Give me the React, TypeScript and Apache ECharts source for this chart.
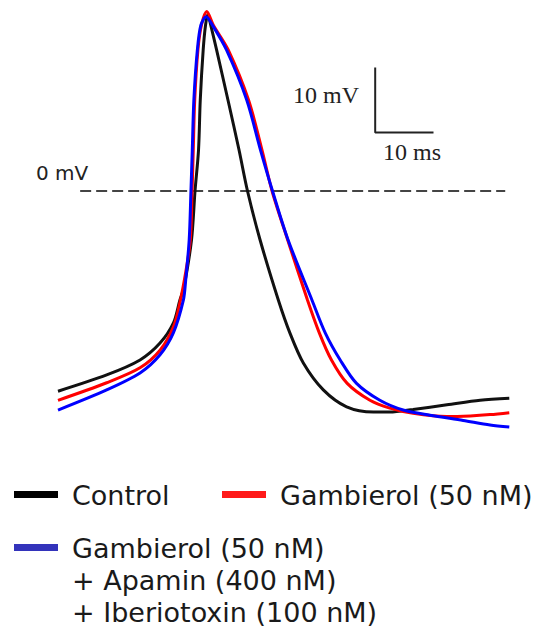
import React, { useEffect, useRef } from "react";
import * as echarts from "echarts";

// time (ms) from trace start, membrane potential (mV)
const controlTrace: [number, number][] = [
  [0, -30.8], [8.35, -28.3], [14.07, -26.0], [17.5, -23.4], [19.8, -20.3], [20.9, -16.8],
  [21.6, -14.8], [22.9, -7.5], [23.5, 0], [24.1, 6.3], [24.4, 14.0], [24.9, 21.7],
  [25.3, 25.5], [25.7, 27.2], [26.2, 25.5], [27.2, 21.7], [29.15, 14.0], [31.05, 6.3],
  [32.5, 0], [34.65, -7.5], [37.8, -16.8], [39.8, -21.9], [42.1, -26.5], [45.5, -30.6],
  [49.5, -33.2], [54.1, -34.0], [56.9, -34.0], [60.9, -33.6], [66.7, -32.9], [72.4, -32.2],
  [77.4, -31.9],
];

const gambierolTrace: [number, number][] = [
  [0, -32.2], [8.35, -29.5], [14.07, -27.2], [17.5, -24.5], [19.8, -20.9], [20.9, -17.2],
  [21.96, -12.2], [22.7, -7.5], [23.0, 0], [23.2, 6.3], [23.45, 14.0], [24.0, 21.7],
  [24.6, 25.5], [25.5, 27.6], [26.65, 25.5], [29.2, 21.7], [32.68, 14.0], [34.99, 6.3],
  [36.71, 0], [39.38, -7.5], [42.8, -16.8], [44.85, -21.9], [46.9, -26.0], [49.6, -29.6],
  [53.5, -32.2], [56.9, -33.4], [60.9, -34.2], [66.7, -34.7], [70.7, -34.6], [74.1, -34.4],
  [77.4, -34.1],
];

const comboTrace: [number, number][] = [
  [0, -33.7], [8.35, -30.6], [14.07, -28.0], [17.5, -25.2], [19.8, -21.8], [21.5, -16.8],
  [21.9, -13.7], [22.5, -7.5], [22.8, 0], [23.03, 6.3], [23.3, 14.0], [23.9, 21.7],
  [24.5, 25.5], [25.4, 26.8], [26.5, 25.5], [28.9, 21.7], [32.37, 14.0], [34.73, 6.3],
  [36.79, 0], [39.45, -7.5], [43.57, -16.8], [45.87, -21.9], [48.4, -26.0], [51.2, -29.6],
  [55.2, -32.2], [59.2, -33.7], [63.8, -34.5], [69.5, -35.3], [74.1, -36.0], [77.4, -36.3],
];

const zeroLine: [number, number][] = [[3.8, 0], [76.7, 0]];
const scaleBar: [number, number][] = [[54.4, 19], [54.4, 9], [64.4, 9]];

const seriesNames = ["Control", "Gambierol (50 nM)", "Gambierol (50 nM)"];
const blueLegendLines = ["Gambierol (50 nM)", "+ Apamin (400 nM)", "+ Iberiotoxin (100 nM)"];
const scaleLabels = { voltage: "10 mV", time: "10 ms", zero: "0 mV" };

export default function App() {
  const ref = useRef<HTMLDivElement>(null);
  useEffect(() => {
    if (!ref.current) return;
    const chart = echarts.init(ref.current, undefined, { renderer: "svg" });
    const sansFont = "'DejaVu Sans', Verdana, sans-serif";
    const serifFont = "'Liberation Serif', 'Times New Roman', serif";
    const legendText = "#1a1a1a";
    chart.setOption({
      animation: false,
      backgroundColor: "#ffffff",
      grid: { left: 58, right: 28.7, top: 2.5, bottom: 180 },
      xAxis: { type: "value", min: 0, max: 77.4, show: false },
      yAxis: { type: "value", min: -40, max: 29, show: false },
      series: [
        {
          type: "line",
          data: zeroLine,
          showSymbol: false,
          lineStyle: { color: "#444444", width: 2, type: [11, 5] },
          silent: true,
        },
        {
          type: "line",
          data: scaleBar,
          showSymbol: false,
          lineStyle: { color: "#222222", width: 2 },
          silent: true,
        },
        {
          name: seriesNames[0],
          type: "line",
          data: controlTrace,
          showSymbol: false,
          smooth: 0.3,
          lineStyle: { color: "#111111", width: 3 },
        },
        {
          name: seriesNames[1],
          type: "line",
          data: gambierolTrace,
          showSymbol: false,
          smooth: 0.3,
          lineStyle: { color: "#ff0000", width: 3 },
        },
        {
          name: seriesNames[2],
          type: "line",
          data: comboTrace,
          showSymbol: false,
          smooth: 0.3,
          lineStyle: { color: "#0000ff", width: 3 },
        },
      ],
      graphic: [
        {
          type: "text",
          x: 359,
          y: 95,
          style: {
            text: scaleLabels.voltage,
            font: `24px ${serifFont}`,
            fill: "#222",
            align: "right",
            verticalAlign: "middle",
          },
        },
        {
          type: "text",
          x: 383,
          y: 152,
          style: {
            text: scaleLabels.time,
            font: `24px ${serifFont}`,
            fill: "#222",
            align: "left",
            verticalAlign: "middle",
          },
        },
        {
          type: "text",
          x: 36,
          y: 173,
          style: {
            text: scaleLabels.zero,
            font: `20px ${sansFont}`,
            fill: "#222",
            align: "left",
            verticalAlign: "middle",
          },
        },
        { type: "rect", shape: { x: 14, y: 491, width: 44, height: 7 }, style: { fill: "#000000" } },
        {
          type: "text",
          x: 72,
          y: 495,
          style: { text: seriesNames[0], font: `27px ${sansFont}`, fill: legendText, verticalAlign: "middle" },
        },
        { type: "rect", shape: { x: 222, y: 491, width: 44, height: 7 }, style: { fill: "#ff1a1a" } },
        {
          type: "text",
          x: 280,
          y: 495,
          style: { text: seriesNames[1], font: `27px ${sansFont}`, fill: legendText, verticalAlign: "middle" },
        },
        { type: "rect", shape: { x: 14, y: 544, width: 44, height: 7 }, style: { fill: "#3333bb" } },
        {
          type: "text",
          x: 72,
          y: 548,
          style: { text: blueLegendLines[0], font: `27px ${sansFont}`, fill: legendText, verticalAlign: "middle" },
        },
        {
          type: "text",
          x: 72,
          y: 580,
          style: { text: blueLegendLines[1], font: `27px ${sansFont}`, fill: legendText, verticalAlign: "middle" },
        },
        {
          type: "text",
          x: 72,
          y: 612,
          style: { text: blueLegendLines[2], font: `27px ${sansFont}`, fill: legendText, verticalAlign: "middle" },
        },
      ],
    });
    return () => chart.dispose();
  }, []);
  return (
    <div
      ref={ref}
      style={{ position: "absolute", left: 0, top: 0, width: 538, height: 631 }}
    />
  );
}
